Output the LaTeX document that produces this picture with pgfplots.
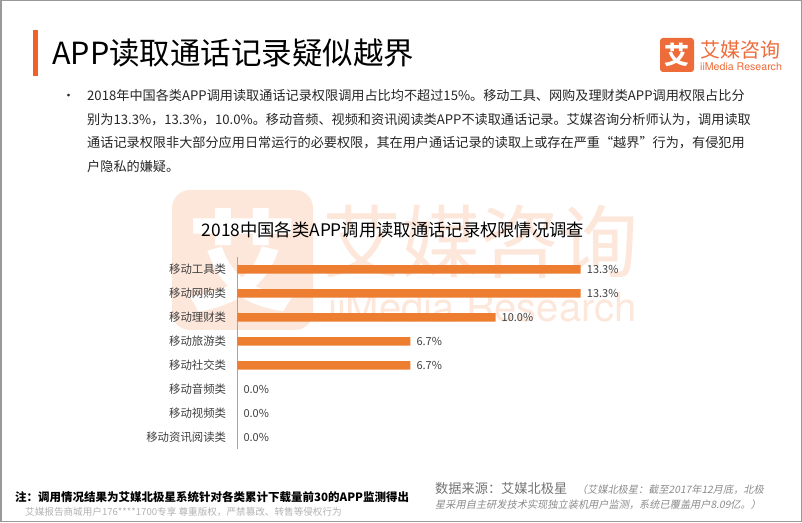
\documentclass[border=0pt]{standalone}
\usepackage{pgfplots}
\pgfplotsset{compat=1.18}
\usepackage{fontspec}
\setmainfont{Noto Sans CJK SC}
\newfontfamily\cjkit[FakeSlant=0.2]{Noto Sans CJK SC}
\newfontfamily\heros{TeX Gyre Heros}
\newcommand\fs[1]{\fontsize{#1}{#1}\selectfont}
\definecolor{accent}{RGB}{240,96,40}
\definecolor{logoor}{RGB}{237,108,58}
\definecolor{baror}{RGB}{237,125,49}
\definecolor{wm}{RGB}{253,231,218}
\definecolor{txt}{RGB}{38,38,38}
\definecolor{lbl}{RGB}{64,64,64}
\definecolor{axgray}{RGB}{165,165,165}
\definecolor{src}{RGB}{115,115,115}
\definecolor{srcit}{RGB}{140,140,140}
\begin{document}
\begin{tikzpicture}[x=1pt,y=1pt]
\useasboundingbox (0,0) rectangle (802,522);
\fill[white] (0,0) rectangle (802,522);
% watermark
\fill[wm, rounded corners=18pt] (172,192) rectangle (313,332);
\node[anchor=center, text=white, inner sep=0pt] at (242.5,262) {\fs{110}\bfseries 艾};
\node[anchor=base west, text=wm, inner sep=0pt] at (322,250) {\fs{79}艾媒咨询};
\node[anchor=base west, text=wm, inner sep=0pt] at (328,200) {\heros\fs{40}iiMedia Research};
% title
\fill[accent] (33,446) rectangle (37.5,492);
\node[anchor=base west, text=black, inner sep=0pt] at (52,457) {\fs{30.5}APP读取通话记录疑似越界};
% logo
\fill[logoor, rounded corners=3pt] (660,450) rectangle (694,484);
\node[text=white, inner sep=0pt] at (677,467) {\fs{25}\bfseries 艾};
\node[anchor=base west, text=logoor, inner sep=0pt] at (700,464) {\fs{20}艾媒咨询};
\node[anchor=base west, text=logoor, inner sep=0pt] at (700,451) {\heros\fs{10.6}iiMedia Research};
% bullet text
\node[anchor=base west, text=txt, inner sep=0pt] at (62,421) {\fs{13}•};
\node[anchor=base west, text=txt, inner sep=0pt] at (87,421) {\fs{13.15}2018年中国各类APP调用读取通话记录权限调用占比均不超过15\%。移动工具、网购及理财类APP调用权限占比分};
\node[anchor=base west, text=txt, inner sep=0pt] at (87,397.5) {\fs{13.15}别为13.3\%，13.3\%，10.0\%。移动音频、视频和资讯阅读类APP不读取通话记录。艾媒咨询分析师认为，调用读取};
\node[anchor=base west, text=txt, inner sep=0pt] at (87,374) {\fs{13.15}通话记录权限非大部分应用日常运行的必要权限，其在用户通话记录的读取上或存在严重“越界”行为，有侵犯用};
\node[anchor=base west, text=txt, inner sep=0pt] at (87,350.5) {\fs{13.15}户隐私的嫌疑。};
% chart title
\node[anchor=base west, text=black, inner sep=0pt] at (201.7,285.5) {\fs{17.3}2018中国各类APP调用读取通话记录权限情况调查};
% chart
\begin{axis}[
  at={(237.3pt,72.7pt)}, anchor=south west,
  scale only axis, width=361.5pt, height=192pt,
  xmin=0, xmax=14, ymin=-0.5, ymax=7.5, y dir=reverse,
  axis x line=none, axis y line*=left,
  y axis line style={draw=axgray, line width=0.8pt},
  ytick={0,1,2,3,4,5,6,7},
  yticklabels={移动工具类,移动网购类,移动理财类,移动旅游类,移动社交类,移动音频类,移动视频类,移动资讯阅读类},
  major tick length=0pt,
  yticklabel style={font=\fs{11.4}, text=lbl, inner sep=0pt, anchor=east, xshift=-11pt},
  clip=false,
  /pgf/number format/assume math mode=true,
  xbar, bar width=8.4pt,
  point meta=x,
  nodes near coords={\pgfmathprintnumber[fixed,fixed zerofill,precision=1]{\pgfplotspointmeta}\%},
  nodes near coords align={horizontal},
  every node near coord/.append style={font=\fs{11}, text=lbl, inner sep=0pt, anchor=west, xshift=6pt},
]
\addplot[fill=baror, draw=none] coordinates {(13.3,0) (13.3,1) (10.0,2) (6.7,3) (6.7,4) (0,5) (0,6) (0,7)};
\end{axis}
% footer
\node[anchor=base west, text=black, inner sep=0pt] at (15,21) {\fs{11.5}\bfseries 注：调用情况结果为艾媒北极星系统针对各类累计下载量前30的APP监测得出};
\node[anchor=base west, text=gray!60, inner sep=0pt] at (25,7) {\fs{9.6}艾媒报告商城用户176****1700专享 尊重版权，严禁篡改、转售等侵权行为};
\node[anchor=base west, text=src, inner sep=0pt] at (435,29) {\fs{13.2}数据来源：艾媒北极星};
\node[anchor=base west, text=srcit, inner sep=0pt] at (576.7,29) {\cjkit\fs{10.2}（艾媒北极星：截至2017年12月底，北极};
\node[anchor=base west, text=srcit, inner sep=0pt] at (435,14) {\cjkit\fs{10.2}星采用自主研发技术实现独立装机用户监测，系统已覆盖用户8.09亿。）};
% frame
\draw[gray!80, line width=1.5pt] (0.75,0.75) rectangle (801.25,521.25);
\end{tikzpicture}
\end{document}
